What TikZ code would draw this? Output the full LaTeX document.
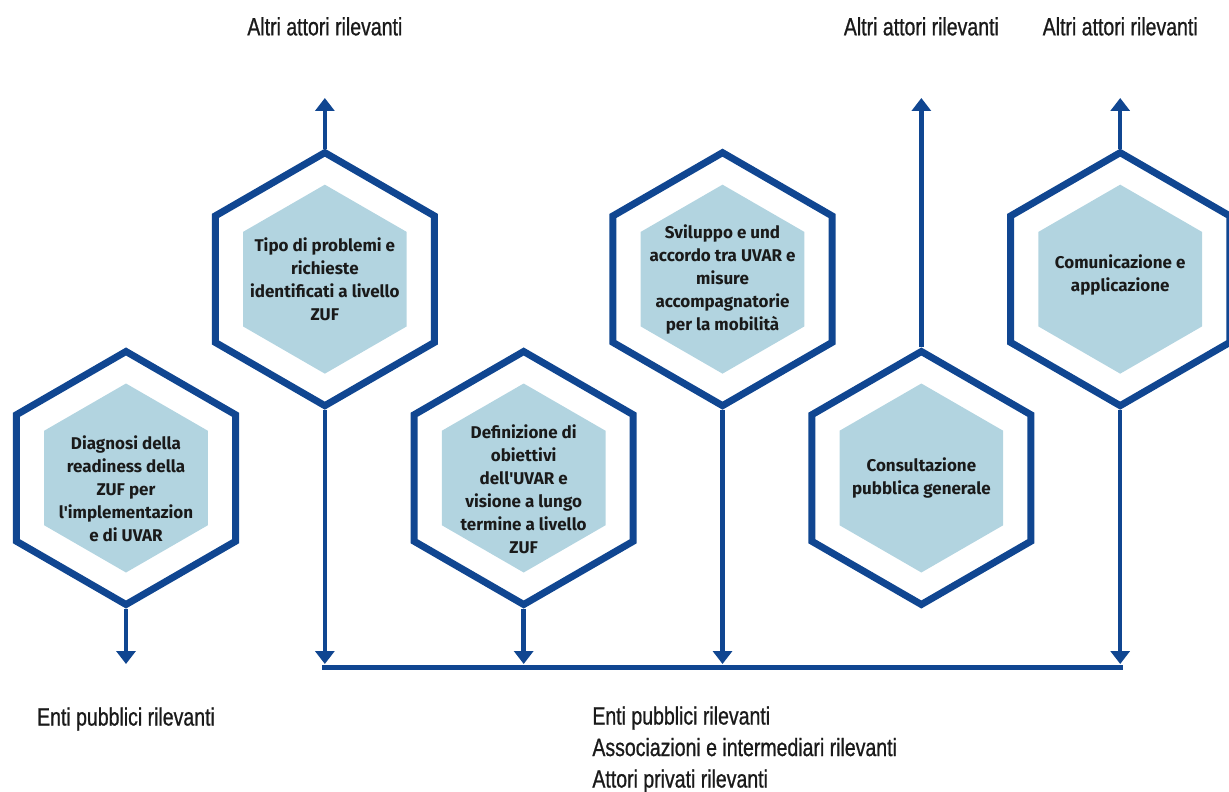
\documentclass[tikz,border=0pt]{standalone}
\usepackage{fontspec}
\setmainfont{Fira Sans}
\newfontfamily\lblfont[FakeStretch=0.78, FakeBold=0.8]{Liberation Sans}
\usetikzlibrary{arrows.meta,positioning,shapes.geometric}

\definecolor{hexblue}{RGB}{16,70,145}
\definecolor{hexfill}{RGB}{178,212,224}
\definecolor{txt}{RGB}{26,26,26}

\begin{document}
\begin{tikzpicture}
[x=0.5pt, y=-0.5pt, node distance=140.6pt,
>={Triangle[width=9.5pt,length=6.5pt]},
hexo/.style={regular polygon, regular polygon sides=6, shape border rotate=30,
  draw=hexblue, line width=3.5pt, minimum size=126.5pt, inner sep=0pt},
hexi/.style={regular polygon, regular polygon sides=6, shape border rotate=30,
  fill=hexfill, minimum size=94.5pt, inner sep=0pt},
hext/.style={align=center, text=txt, font=\bfseries\fontsize{8.5}{11.5}\selectfont},
conn/.style={->, draw=hexblue, line width=2.25pt, shorten >=1.5pt},
bus/.style={draw=hexblue, line width=2.5pt, line cap=rect},
lbl/.style={inner sep=0pt, text=txt, font=\lblfont\fontsize{12.5}{15.75}\selectfont}
]
  \useasboundingbox (0,0) rectangle (1229,791);

  % hexagons
  \node[hexo]		(h1) at (126,478)		{};
  \node[hexo]		(h2) [above right of=h1]	{};
  \node[hexo]		(h3) [below right of=h2]	{};
  \node[hexo]		(h4) [above right of=h3]	{};
  \node[hexo]		(h5) [below right of=h4]	{};
  \node[hexo]		(h6) [above right of=h5]	{};
  \foreach \n in {1,...,6}
    \node[hexi]	(i\n) at (h\n)	{};

  \node[hext]		(l1) at ([yshift=-5.5pt]h1)	{Diagnosi della\\readiness della\\ZUF per\\l\textquotesingle implementazion\\e di UVAR};
  \node[hext]		(l2) at (h2)			{Tipo di problemi e\\richieste\\identificati a livello\\ZUF};
  \node[hext]		(l3) at ([yshift=-5.5pt]h3)	{Definizione di\\obiettivi\\dell\textquotesingle UVAR e\\visione a lungo\\termine a livello\\ZUF};
  \node[hext]		(l4) at (h4)			{Sviluppo e und\\accordo tra UVAR e\\misure\\accompagnatorie\\per la mobilità};
  \node[hext]		(l5) at (h5)			{Consultazione\\pubblica generale};
  \node[hext]		(l6) at ([yshift=2pt]h6)	{Comunicazione e\\applicazione};

  % arrow ends
  \coordinate (top) at (0,95);
  \coordinate (bot) at (0,667);
  \foreach \n in {1,2,3,4,6}
    \coordinate (b\n) at (h\n |- bot);
  \foreach \n in {2,5,6}
    \coordinate (a\n) at (h\n |- top);

  \path
  	(h1) edge [conn] (b1)
  	(h2) edge [conn] (b2)
  	(h3) edge [conn] (b3)
  	(h4) edge [conn] (b4)
  	(h6) edge [conn] (b6)
  	(h2) edge [conn] (a2)
  	(h5) edge [conn] (a5)
  	(h6) edge [conn] (a6)
    ;
  \draw[bus] (b2) -- (b6);

  % actors
  \node[lbl]	(t2) [above=29.5pt of a2]	{Altri attori rilevanti};
  \node[lbl]	(t5) [above=29.5pt of a5]	{Altri attori rilevanti};
  \node[lbl]	(t6) [above=29.5pt of a6]	{Altri attori rilevanti};
  \node[lbl]	(e1) [below=20pt of b1]	{Enti pubblici rilevanti};
  \node[lbl, align=left, anchor=north west]	(e2) at (592,706)
  	{Enti pubblici rilevanti\\Associazioni e intermediari rilevanti\\Attori privati rilevanti};
\end{tikzpicture}
\end{document}
